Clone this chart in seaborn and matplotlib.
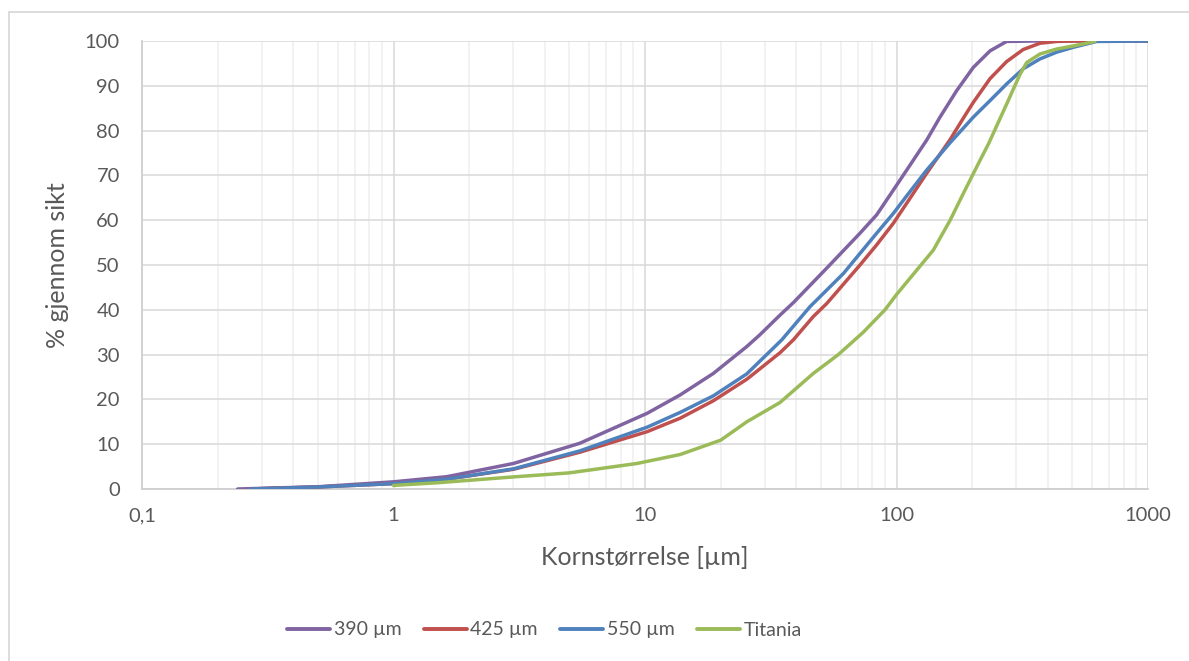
import numpy as np
import pandas as pd
import matplotlib
matplotlib.use("Agg")
import matplotlib.pyplot as plt
from matplotlib.lines import Line2D
from matplotlib.ticker import FixedLocator, LogLocator, NullFormatter
import seaborn as sns

# Sieve curves: particle size [µm] vs. cumulative % passing
size_390 = [0.24, 0.5, 1.0, 1.63, 3.0, 5.5, 10.2, 13.8, 18.7, 25.4, 28.6, 34.4, 38.9, 52.8,
            71.6, 83.4, 97.1, 113.2, 131.9, 148.9, 173.4, 202, 235.5, 274, 350, 1000]
pass_390 = [0, 0.5, 1.6, 2.75, 5.7, 10.2, 16.9, 21.0, 25.8, 31.8, 34.4, 38.8, 41.6, 49.3,
            57.1, 61.2, 66.7, 72.3, 77.9, 83.0, 88.9, 94.1, 97.8, 99.9, 100, 100]

size_425 = [0.27, 0.5, 1.0, 1.63, 3.0, 5.5, 10.2, 13.8, 18.7, 25.4, 34.4, 38.9, 46.7, 52.8,
            71.6, 83.4, 97.1, 113.2, 131.9, 163.4, 184.5, 202, 235.5, 274, 319, 372, 433,
            500, 1000]
pass_425 = [0, 0.45, 1.2, 2.2, 4.4, 8.2, 12.8, 15.8, 19.7, 24.5, 30.4, 33.3, 38.5, 41.4,
            50.0, 54.5, 59.3, 64.9, 70.5, 78.0, 82.8, 86.3, 91.6, 95.4, 98.1, 99.5, 99.9,
            100, 100]

size_550 = [0.27, 0.5, 1.0, 1.63, 3.0, 5.5, 10.2, 13.8, 18.7, 25.4, 35.0, 45.3, 61.5, 83.4,
            97.1, 113.2, 131.9, 163.4, 202, 235.5, 274, 319, 372, 433, 505, 625, 1000]
pass_550 = [0, 0.45, 1.2, 2.2, 4.5, 8.5, 13.8, 17.1, 20.8, 25.7, 33.3, 40.7, 48.1, 57.1,
            61.5, 66.4, 71.2, 77.3, 83.0, 86.7, 90.4, 93.8, 96.0, 97.5, 98.6, 99.9, 100]

size_tit = [1.0, 1.5, 3.0, 5.0, 9.3, 13.8, 20, 25.4, 34.4, 46.7, 58.7, 73.8, 90, 100, 113,
            140, 163.4, 184.5, 215, 232, 274, 310, 329.5, 372, 433, 505, 615]
pass_tit = [0.8, 1.4, 2.7, 3.6, 5.7, 7.7, 10.9, 15.0, 19.3, 25.8, 30.0, 35.0, 40.0, 43.4, 47.0,
            53.3, 60.0, 66.0, 73.4, 77.0, 85.9, 92.6, 95.2, 97.1, 98.2, 98.9, 99.9]

series_names = ["390 µm", "425 µm", "550 µm", "Titania"]
series_colors = ["#8064A2", "#C0504D", "#4F81BD", "#9BBB59"]
x_ticks = [0.1, 1, 10, 100, 1000]
x_tick_labels = ["0,1", "1", "10", "100", "1000"]
y_ticks = list(range(0, 101, 10))

frames = []
for name, xs, ys in zip(series_names,
                        [size_390, size_425, size_550, size_tit],
                        [pass_390, pass_425, pass_550, pass_tit]):
    frames.append(pd.DataFrame({"size": xs, "passing": ys, "serie": name}))
df = pd.concat(frames, ignore_index=True)

sns.set_theme(style="white")
plt.rcParams["font.family"] = ["Lato", "DejaVu Sans"]
text_color = "#595959"

fig = plt.figure(figsize=(11.89, 6.61), dpi=100)
ax = fig.add_axes([142 / 1189, 1 - 489 / 661, (1148 - 142) / 1189, (489 - 41) / 661])

sns.lineplot(data=df, x="size", y="passing", hue="serie", hue_order=series_names,
             palette=series_colors, sort=False, estimator=None, units="serie",
             linewidth=2.5, ax=ax, legend=False, zorder=3)
for line in ax.get_lines():
    line.set_solid_joinstyle("round")
    line.set_solid_capstyle("round")

ax.set_xscale("log")
ax.set_xlim(0.1, 1000)
ax.set_ylim(0, 100)
ax.xaxis.set_major_locator(FixedLocator(x_ticks))
ax.set_xticklabels(x_tick_labels)
ax.xaxis.set_minor_locator(LogLocator(base=10, subs=np.arange(2, 10)))
ax.xaxis.set_minor_formatter(NullFormatter())
ax.set_yticks(y_ticks)

ax.grid(True, which="major", color="#d9d9d9", linewidth=1.1, zorder=0)
ax.grid(True, which="minor", axis="x", color="#efefef", linewidth=1.1, zorder=0)
ax.set_axisbelow(True)

for side in ["top", "right"]:
    ax.spines[side].set_visible(False)
for side in ["left", "bottom"]:
    ax.spines[side].set_color("#cfcfcf")
    ax.spines[side].set_linewidth(1.3)

ax.tick_params(axis="both", which="both", length=0, labelsize=14.5, labelcolor=text_color)
ax.tick_params(axis="x", pad=13)
ax.tick_params(axis="y", pad=16)

ax.set_xlabel("Kornstørrelse [µm]", fontsize=18, color=text_color)
ax.set_ylabel("% gjennom sikt", fontsize=18, color=text_color)
ax.xaxis.set_label_coords(0.5, -0.128)
ax.yaxis.set_label_coords(-0.073, 0.5)

handles = [Line2D([], [], color=c, linewidth=2.8, solid_capstyle="round") for c in series_colors]
fig.legend(handles, series_names, loc="center", bbox_to_anchor=(0.458, 1 - 630 / 661),
           ncol=4, frameon=False, fontsize=14, labelcolor=text_color,
           handlelength=2.2, handletextpad=0.2, columnspacing=1.15)

# chart-area frame
frame_color = "#d9d9d9"
fig.add_artist(Line2D([9 / 1189, 1.0], [1 - 12 / 661, 1 - 12 / 661],
                      transform=fig.transFigure, color=frame_color, linewidth=1.3))
fig.add_artist(Line2D([9 / 1189, 9 / 1189], [0.0, 1 - 12 / 661],
                      transform=fig.transFigure, color=frame_color, linewidth=1.3))

fig.savefig("out.png", dpi=100)
